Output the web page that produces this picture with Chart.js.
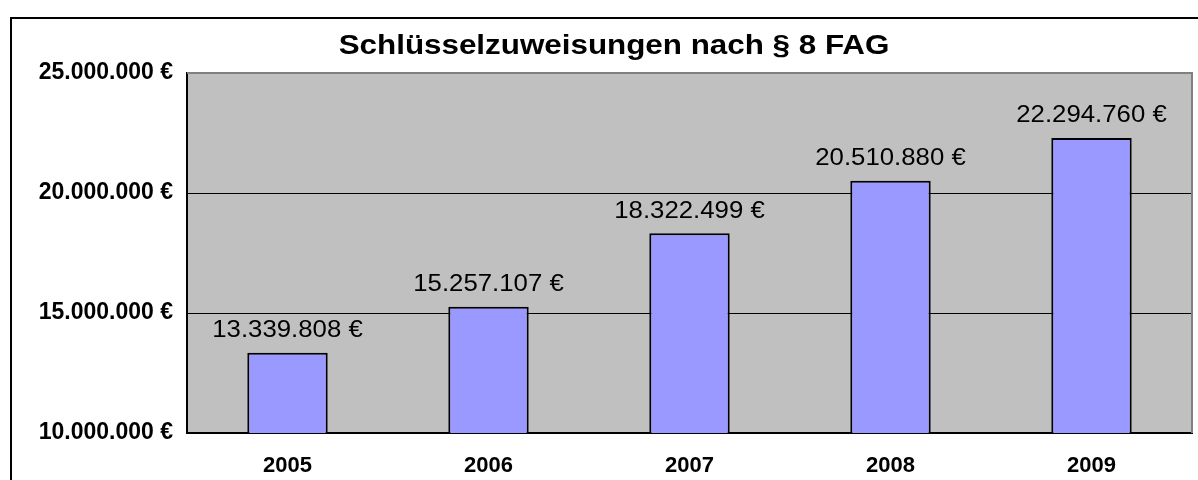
<!DOCTYPE html>
<html>
<head>
<meta charset="utf-8">
<script src="https://cdn.jsdelivr.net/npm/chart.js@4/dist/chart.umd.min.js"></script>
<style>
  html, body { margin: 0; padding: 0; background: #fff; }
  #wrap { width: 1198px; height: 480px; position: relative; }
</style>
</head>
<body>
<div id="wrap"><canvas id="c" width="1198" height="480"></canvas></div>
<script>
const title = 'Schlüsselzuweisungen nach § 8 FAG';
const years = ['2005', '2006', '2007', '2008', '2009'];
const amounts = [13339808, 15257107, 18322499, 20510880, 22294760];
const yMin = 10000000;
const yMax = 25000000;
const yStep = 5000000;

const FONT = '"Liberation Sans", Arial, sans-serif';
function fmt(v) {
  return String(Math.round(v)).replace(/\B(?=(\d{3})+(?!\d))/g, '.') + ' €';
}

function stretchedText(ctx, text, x, y, sx) {
  ctx.save();
  ctx.translate(x, y);
  ctx.scale(sx, 1);
  ctx.fillText(text, 0, 0);
  ctx.restore();
}

const framePlugin = {
  id: 'frame',
  beforeDraw(chart) {
    const ctx = chart.ctx;
    const a = chart.chartArea;
    ctx.save();
    ctx.fillStyle = '#ffffff';
    ctx.fillRect(0, 0, chart.width, chart.height);
    ctx.strokeStyle = '#000000';
    ctx.lineWidth = 2;
    ctx.strokeRect(11, 18, 1400, 800);
    ctx.fillStyle = '#C0C0C0';
    ctx.fillRect(a.left, a.top, a.right - a.left, a.bottom - a.top);
    ctx.restore();
  },
  afterDatasetsDraw(chart) {
    const ctx = chart.ctx;
    const a = chart.chartArea;
    ctx.save();
    ctx.strokeStyle = '#808080';
    ctx.lineWidth = 2;
    ctx.beginPath();
    ctx.moveTo(a.left, a.top);
    ctx.lineTo(a.right, a.top);
    ctx.lineTo(a.right, a.bottom);
    ctx.stroke();
    const meta = chart.getDatasetMeta(0);
    ctx.fillStyle = '#000000';
    ctx.font = '23px ' + FONT;
    ctx.textAlign = 'center';
    ctx.textBaseline = 'middle';
    meta.data.forEach((bar, i) => {
      stretchedText(ctx, fmt(amounts[i]), bar.x, bar.y - 22, 1.12);
    });
    ctx.font = 'bold 28px ' + FONT;
    stretchedText(ctx, title, 614, 46, 1.12);
    ctx.restore();
  }
};

new Chart(document.getElementById('c'), {
  type: 'bar',
  data: {
    labels: years,
    datasets: [{
      data: amounts,
      backgroundColor: '#9999FF',
      borderColor: '#000000',
      borderWidth: 2,
      barPercentage: 0.4,
      categoryPercentage: 1.0
    }]
  },
  options: {
    responsive: false,
    animation: false,
    devicePixelRatio: 1,
    layout: { padding: { top: 73, right: 6, bottom: 0, left: 0 } },
    plugins: {
      legend: { display: false },
      tooltip: { enabled: false },
      title: { display: false }
    },
    scales: {
      x: {
        grid: { display: false, drawTicks: false },
        border: { display: true, color: '#000000', width: 2 },
        ticks: {
          color: '#000000',
          font: { family: FONT, size: 22, weight: 'bold' },
          padding: 20,
          maxRotation: 0
        },
        afterFit(scale) { scale.height = 47; }
      },
      y: {
        min: yMin,
        max: yMax,
        grid: { color: '#000000', lineWidth: 1, drawTicks: false },
        border: { display: true, color: '#000000', width: 2 },
        ticks: {
          stepSize: yStep,
          color: '#000000',
          font: { family: FONT, size: 23, weight: 'bold' },
          padding: 14,
          callback: (v) => fmt(v)
        },
        afterFit(scale) { scale.width = 187; }
      }
    }
  },
  plugins: [framePlugin]
});
</script>
</body>
</html>
